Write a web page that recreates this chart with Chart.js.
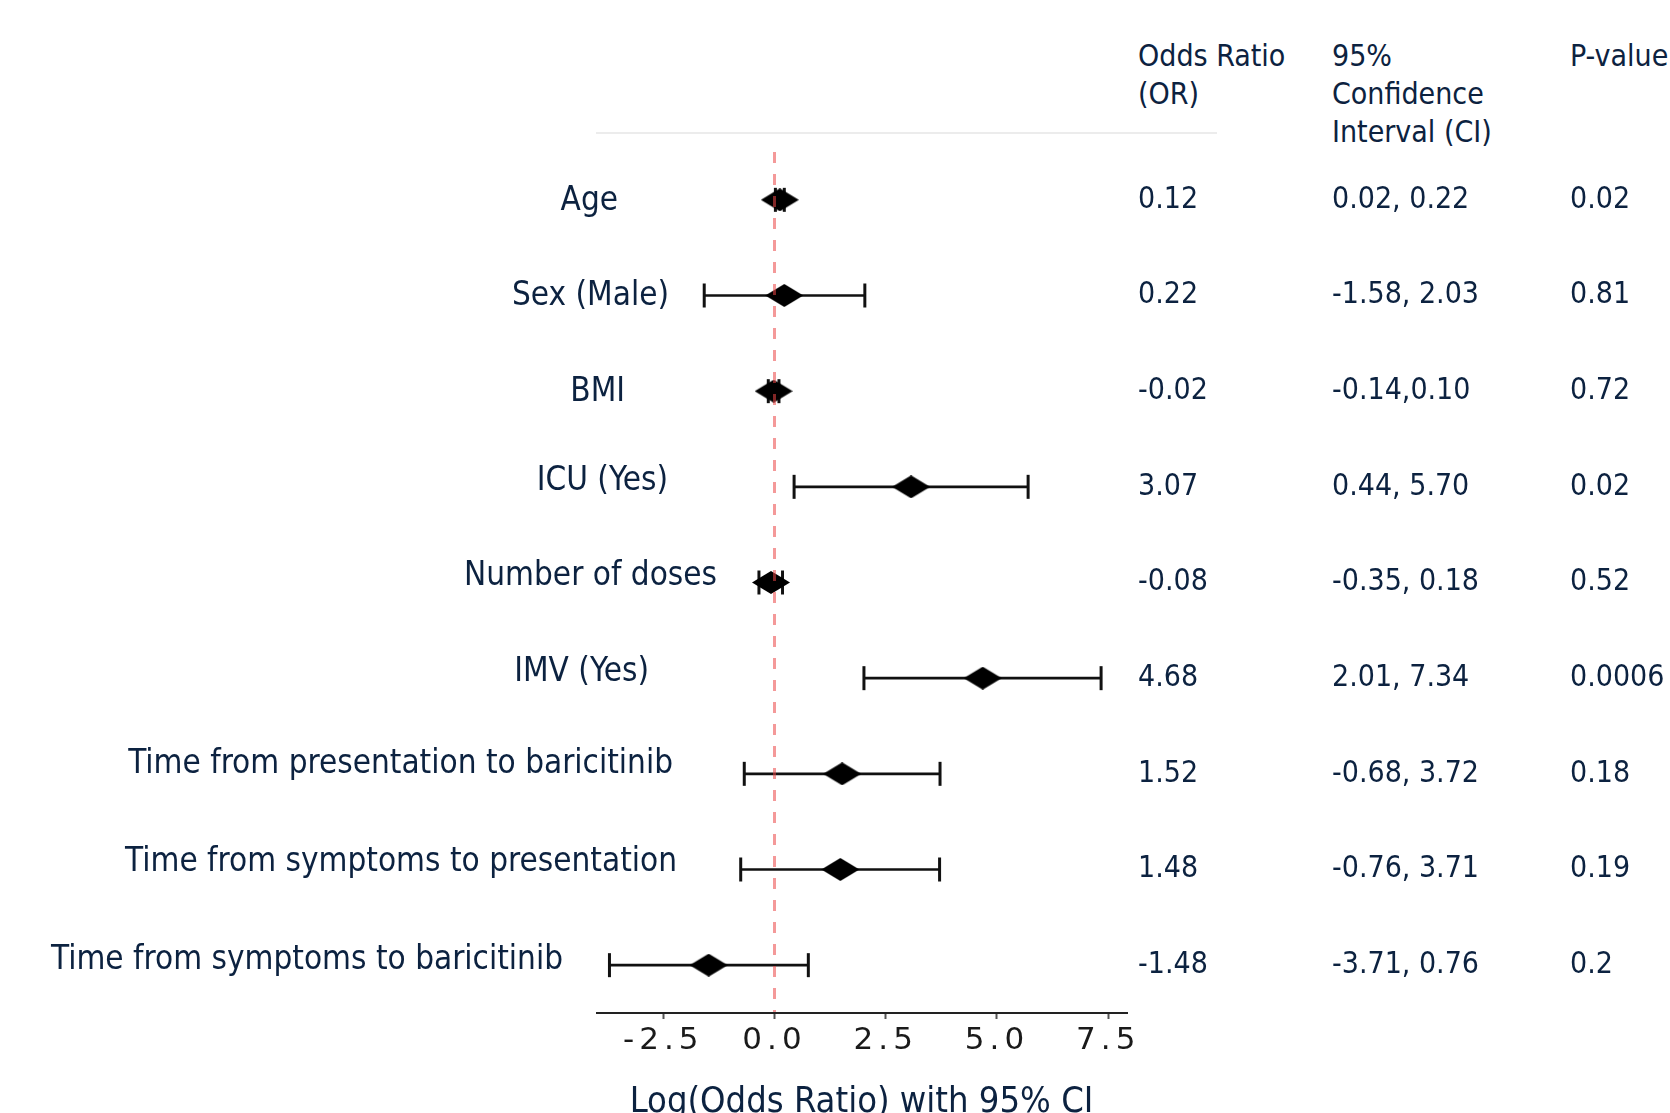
<!DOCTYPE html>
<html lang="en">
<head>
  <meta charset="UTF-8">
  <title>Log(Odds Ratio) with 95% CI</title>
  <script src="https://cdn.jsdelivr.net/npm/chart.js"></script>
  <style>
    html, body {
      margin: 0;
      padding: 0;
      background: #fff;
      overflow: hidden;
      width: 1670px;
      height: 1113px;
    }
    #forest {
      position: absolute;
      left: 0;
      top: 0;
    }
    .hdr {
      position: absolute;
      top: 37px;
      font-family: 'DejaVu Sans Condensed', 'DejaVu Sans', sans-serif;
      font-size: 30px;
      line-height: 38px;
      color: #0c2240;
      white-space: nowrap;
    }
    .rule {
      position: absolute;
      left: 596px;
      top: 132px;
      width: 621px;
      height: 2px;
      background: #ececec;
    }
  </style>
</head>
<body>
  <div class="hdr" style="left:1138px">Odds Ratio<br>(OR)</div>
  <div class="hdr" style="left:1332px">95%<br>Confidence<br>Interval (CI)</div>
  <div class="hdr" style="left:1570px">P-value</div>
  <div class="rule"></div>
  <canvas id="forest" width="1670" height="1124"></canvas>

  <script>
    const variables = [
      'Age',
      'Sex (Male)',
      'BMI',
      'ICU (Yes)',
      'Number of doses',
      'IMV (Yes)',
      'Time from presentation to baricitinib',
      'Time from symptoms to presentation',
      'Time from symptoms to baricitinib'
    ];
    const logOR  = [0.12, 0.22, -0.02, 3.07, -0.08, 4.68, 1.52, 1.48, -1.48];
    const ciLow  = [0.02, -1.58, -0.14, 0.44, -0.35, 2.01, -0.68, -0.76, -3.71];
    const ciHigh = [0.22, 2.03, 0.10, 5.70, 0.18, 7.34, 3.72, 3.71, 0.76];

    const orText = ['0.12', '0.22', '-0.02', '3.07', '-0.08', '4.68', '1.52', '1.48', '-1.48'];
    const ciText = ['0.02, 0.22', '-1.58, 2.03', '-0.14,0.10', '0.44, 5.70', '-0.35, 0.18',
                    '2.01, 7.34', '-0.68, 3.72', '-0.76, 3.71', '-3.71, 0.76'];
    const pText  = ['0.02', '0.81', '0.72', '0.02', '0.52', '0.0006', '0.18', '0.19', '0.2'];

    const xTicks = [-2.5, 0, 2.5, 5, 7.5];

    // row labels on the slide were placed by hand: where each one ends, and how far it sits above its row
    const labelEnd   = [618, 669, 625, 668, 717, 649, 673, 677, 563];
    const labelRaise = [-2, -1, -1, 5, 6, 6, 9, 7, 5];

    const navy = '#0c2240';
    const labelFont = "'DejaVu Sans Condensed', 'DejaVu Sans', sans-serif";
    const labelSize = 33;
    const plotLeft = 597;

    // wide diamond marker (wider than tall, like the original)
    function diamond(w, h) {
      const c = document.createElement('canvas');
      c.width = w;
      c.height = h;
      const g = c.getContext('2d');
      g.fillStyle = '#000';
      g.beginPath();
      g.moveTo(w / 2, 0);
      g.lineTo(w, h / 2);
      g.lineTo(w / 2, h);
      g.lineTo(0, h / 2);
      g.closePath();
      g.fill();
      return c;
    }

    const measure = document.createElement('canvas').getContext('2d');
    measure.font = labelSize + 'px ' + labelFont;
    const textWidth = t => measure.measureText(t).width;

    const capPoints = variables.map((v, i) => ({x: ciLow[i], y: v}))
      .concat(variables.map((v, i) => ({x: ciHigh[i], y: v})));

    function textAxis(labels, weight, width, pad) {
      return {
        type: 'category',
        position: 'right',
        labels: labels,
        offset: true,
        weight: weight,
        grid: {display: false, drawTicks: false},
        border: {display: false},
        ticks: {
          autoSkip: false,
          padding: pad,
          color: navy,
          font: {family: labelFont, size: 30}
        },
        afterFit: s => { s.width = width; }
      };
    }

    // one zero-width mirrored axis per row label, sitting on the plot's left edge,
    // so each label can end where it did on the slide
    const rowAxes = {};
    variables.forEach((name, i) => {
      rowAxes['row' + i] = {
        type: 'category',
        position: 'left',
        labels: variables,
        offset: true,
        weight: -1 - i,
        grid: {display: false, drawTicks: false},
        border: {display: false},
        ticks: {
          autoSkip: false,
          mirror: true,
          crossAlign: 'far',
          padding: labelEnd[i] - plotLeft - textWidth(name),
          labelOffset: -labelRaise[i],
          color: navy,
          font: {family: labelFont, size: labelSize},
          callback: (v, j) => (j === i ? name : '')
        },
        afterFit: s => { s.width = 0; }
      };
    });

    // the x tick numbers in the original are drawn very wide
    const wideTicks = {
      id: 'wideTicks',
      afterDatasetsDraw(chart) { chart.ctx.letterSpacing = '5px'; },
      afterDraw(chart) { chart.ctx.letterSpacing = '0px'; }
    };

    const ctx = document.getElementById('forest').getContext('2d');
    new Chart(ctx, {
      type: 'bar',
      data: {
        labels: variables,
        datasets: [
          {
            type: 'scatter',
            label: 'Log OR',
            data: variables.map((v, i) => ({x: logOR[i], y: v})),
            pointStyle: diamond(38, 23),
            order: 1
          },
          {
            type: 'scatter',
            label: 'CI caps',
            data: capPoints,
            pointStyle: 'line',
            rotation: 90,
            radius: 12,
            borderWidth: 3,
            borderColor: '#111',
            order: 2
          },
          {
            type: 'bar',
            label: '95% CI',
            indexAxis: 'y',
            data: variables.map((v, i) => [ciLow[i], ciHigh[i]]),
            backgroundColor: '#111',
            borderWidth: 0,
            barThickness: 2,
            order: 3
          }
        ]
      },
      plugins: [wideTicks],
      options: {
        responsive: false,
        animation: false,
        layout: {padding: {top: 152, left: 0, right: 0, bottom: 0}},
        plugins: {
          legend: {display: false},
          tooltip: {enabled: false}
        },
        scales: Object.assign({
          x: {
            type: 'linear',
            position: 'bottom',
            min: -3.99,
            max: 7.9,
            offset: false,
            weight: 0,
            afterBuildTicks: s => { s.ticks = xTicks.map(v => ({value: v})); },
            afterFit: s => { s.height = 62; },
            grid: {
              z: 1,
              offset: false,
              lineWidth: 3,
              color: c => (c.tick && c.tick.value === 0) ? 'rgba(235,70,70,0.55)' : 'rgba(0,0,0,0)',
              tickColor: '#555',
              tickLength: 6,
              tickWidth: 2
            },
            border: {display: true, z: 1, color: '#222', width: 2, dash: [11, 11]},
            ticks: {
              z: 1,
              autoSkip: false,
              maxRotation: 0,
              padding: 3,
              color: '#1a1a1a',
              font: {family: "'DejaVu Sans', sans-serif", size: 31},
              callback: v => Number(v).toFixed(1)
            }
          },
          xTitle: {
            type: 'linear',
            position: 'bottom',
            min: -3.99,
            max: 7.9,
            weight: 1,
            grid: {display: false, drawTicks: false},
            border: {display: false},
            ticks: {display: false},
            afterFit: s => { s.height = 1124 - 1013 - 62; },
            title: {
              display: true,
              text: 'Log(Odds Ratio) with 95% CI',
              color: navy,
              font: {family: labelFont, size: 36},
              padding: {top: 0, bottom: 0}
            }
          },
          y: {
            type: 'category',
            position: 'left',
            offset: true,
            weight: 0,
            grid: {display: false, drawTicks: false},
            border: {display: false},
            ticks: {display: false},
            afterFit: s => { s.width = plotLeft; }
          },
          orCol: textAxis(orText, 1, 206, 12),
          ciCol: textAxis(ciText, 2, 238, 0),
          pCol: textAxis(pText, 3, 100, 0)
        }, rowAxes)
      }
    });
  </script>
</body>
</html>
